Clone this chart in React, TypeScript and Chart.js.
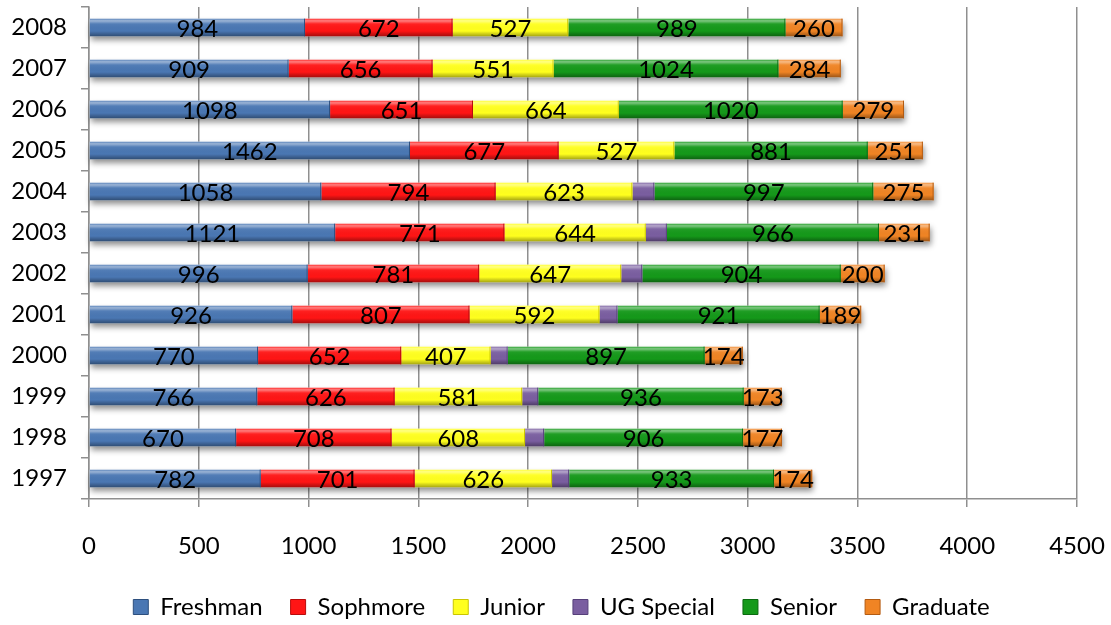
import React, { useEffect, useRef } from "react";
import { Chart, registerables } from "chart.js";

Chart.register(...registerables);

const years = ["2008", "2007", "2006", "2005", "2004", "2003", "2002", "2001", "2000", "1999", "1998", "1997"];
const freshman = [984, 909, 1098, 1462, 1058, 1121, 996, 926, 770, 766, 670, 782];
const sophmore = [672, 656, 651, 677, 794, 771, 781, 807, 652, 626, 708, 701];
const junior = [527, 551, 664, 527, 623, 644, 647, 592, 407, 581, 608, 626];
const ugSpecial = [0, 0, 0, 0, 100, 96, 96, 82, 78, 73, 87, 78];
const senior = [989, 1024, 1020, 881, 997, 966, 904, 921, 897, 936, 906, 933];
const graduate = [260, 284, 279, 251, 275, 231, 200, 189, 174, 173, 177, 174];
const xTicks = [0, 500, 1000, 1500, 2000, 2500, 3000, 3500, 4000, 4500];

const seriesNames = ["Freshman", "Sophmore", "Junior", "UG Special", "Senior", "Graduate"];
const seriesData = [freshman, sophmore, junior, ugSpecial, senior, graduate];
const seriesColors = ["#4a77b3", "#ff1515", "#ffff1e", "#7a5ea0", "#15991a", "#f08424"];
const seriesDark = ["#2d4f7e", "#b80c0c", "#c9c500", "#56407a", "#0b6a10", "#b35b12"];
const showLabels = [true, true, true, false, true, true];

const FONT = "Lato, 'Open Sans', sans-serif";

const shadowPlugin = {
  id: "barShadow",
  beforeDatasetsDraw(chart: any) {
    const ctx = chart.ctx;
    const metas = chart.getSortedVisibleDatasetMetas();
    if (!metas.length) return;
    const n = metas[0].data.length;
    ctx.save();
    for (let i = 0; i < n; i++) {
      let minX = Infinity, maxX = -Infinity, y = 0, h = 0;
      metas.forEach((m: any) => {
        const el = m.data[i];
        if (!el) return;
        minX = Math.min(minX, el.base, el.x);
        maxX = Math.max(maxX, el.base, el.x);
        y = el.y;
        h = el.height;
      });
      ctx.shadowColor = "rgba(0,0,0,0.45)";
      ctx.shadowBlur = 6;
      ctx.shadowOffsetX = 1;
      ctx.shadowOffsetY = 4;
      ctx.fillStyle = "#ffffff";
      ctx.fillRect(minX, y - h / 2, maxX - minX, h);
    }
    ctx.restore();
  },
  afterDatasetsDraw(chart: any) {
    const ctx = chart.ctx;
    const metas = chart.getSortedVisibleDatasetMetas();
    ctx.save();
    metas.forEach((m: any) => {
      const di = m.index;
      m.data.forEach((el: any) => {
        const x0 = Math.min(el.base, el.x);
        const x1 = Math.max(el.base, el.x);
        const w = x1 - x0;
        if (w < 1) return;
        const top = el.y - el.height / 2;
        const h = el.height;
        const g = ctx.createLinearGradient(0, top, 0, top + h);
        g.addColorStop(0, "rgba(255,255,255,0.10)");
        g.addColorStop(0.12, "rgba(255,255,255,0.45)");
        g.addColorStop(0.3, "rgba(255,255,255,0.05)");
        g.addColorStop(0.7, "rgba(0,0,0,0)");
        g.addColorStop(0.85, "rgba(0,0,0,0.18)");
        g.addColorStop(1, "rgba(0,0,0,0.35)");
        ctx.fillStyle = g;
        ctx.fillRect(x0, top, w, h);
        ctx.strokeStyle = seriesDark[di];
        ctx.lineWidth = 1;
        ctx.beginPath();
        ctx.moveTo(x1 - 0.5, top);
        ctx.lineTo(x1 - 0.5, top + h);
        ctx.stroke();
      });
    });
    ctx.fillStyle = "#000000";
    ctx.font = `24px ${FONT}`;
    ctx.textAlign = "center";
    ctx.textBaseline = "middle";
    metas.forEach((m: any) => {
      const di = m.index;
      if (!showLabels[di]) return;
      m.data.forEach((el: any, i: number) => {
        const v = seriesData[di][i];
        if (!v) return;
        const cx = (el.base + el.x) / 2;
        ctx.fillText(String(v), cx, el.y + 2);
      });
    });
    ctx.restore();
  },
};

export default function App() {
  const ref = useRef<HTMLCanvasElement | null>(null);
  useEffect(() => {
    if (!ref.current) return;
    const chart = new Chart(ref.current, {
      type: "bar",
      data: {
        labels: years,
        datasets: seriesNames.map((name, i) => ({
          label: name,
          data: seriesData[i],
          backgroundColor: seriesColors[i],
          borderWidth: 0,
          barPercentage: 0.86,
          categoryPercentage: 0.5,
        })),
      },
      options: {
        indexAxis: "y",
        animation: false,
        responsive: false,
        maintainAspectRatio: false,
        layout: { padding: { top: 7, right: 0, left: 12, bottom: -4 } },
        scales: {
          x: {
            stacked: true,
            min: 0,
            max: 4500,
            afterBuildTicks: (scale: any) => {
              scale.ticks = xTicks.map((v) => ({ value: v }));
            },
            afterFit: (scale: any) => {
              scale.height = 68;
              scale.paddingLeft = 0;
              scale.paddingRight = 34;
            },
            ticks: {
              color: "#000000",
              font: { family: FONT, size: 24 },
              padding: 25,
              callback: (v: any) => String(v),
            },
            grid: {
              color: "#8f8f8f",
              lineWidth: 1.5,
              tickLength: 8,
            },
            border: { color: "#8f8f8f", width: 1.5 },
          },
          y: {
            stacked: true,
            afterFit: (scale: any) => {
              scale.width = 77;
              scale.paddingTop = 0;
              scale.paddingBottom = 0;
            },
            ticks: {
              color: "#000000",
              font: { family: FONT, size: 24 },
              padding: 14,
            },
            grid: {
              drawOnChartArea: false,
              color: "#8f8f8f",
              lineWidth: 1.5,
              tickLength: 8,
              offset: true,
            },
            border: { color: "#8f8f8f", width: 1.5 },
          },
        },
        plugins: {
          legend: {
            position: "bottom",
            labels: {
              color: "#000000",
              font: { family: FONT, size: 24 },
              boxWidth: 15,
              boxHeight: 15,
              padding: 28,
              generateLabels: () =>
                seriesNames.map((name, i) => ({
                  text: name,
                  fillStyle: seriesColors[i],
                  strokeStyle: seriesDark[i],
                  lineWidth: 1,
                  hidden: false,
                  datasetIndex: i,
                  fontColor: "#000000",
                })),
            },
          },
          tooltip: { enabled: false },
        },
      },
      plugins: [shadowPlugin],
    });
    return () => chart.destroy();
  }, []);
  return (
    <div style={{ position: "fixed", left: 0, top: 0, width: 1111, height: 625, background: "#ffffff" }}>
      <canvas ref={ref} width={1111} height={625} style={{ width: 1111, height: 625, display: "block" }} />
    </div>
  );
}
